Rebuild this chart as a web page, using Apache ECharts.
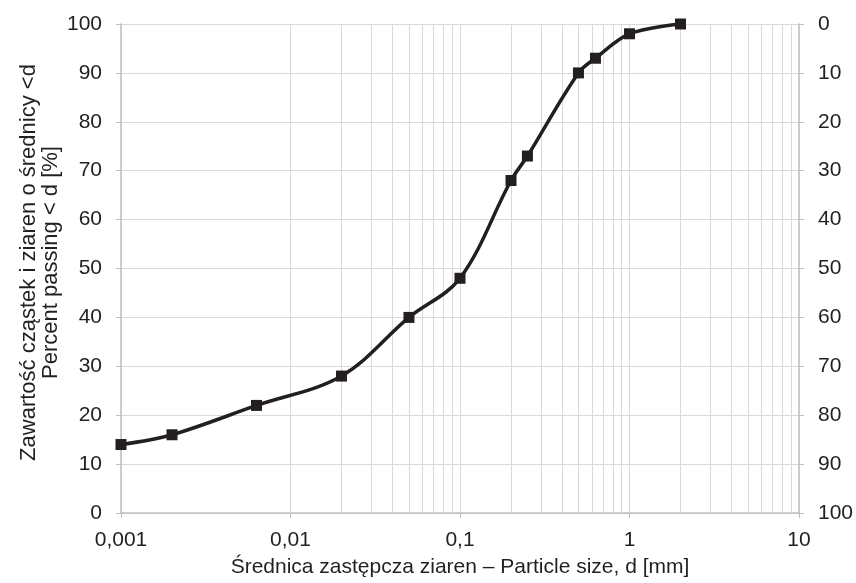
<!DOCTYPE html>
<html>
<head>
<meta charset="utf-8">
<script src="https://cdn.jsdelivr.net/npm/echarts@6/dist/echarts.min.js"></script>
<style>
  html, body { margin: 0; padding: 0; background: #fff; }
  #main { width: 856px; height: 583px; }
</style>
</head>
<body>
<div id="main"></div>
<script>
// particle size distribution
var particleSize = [0.001, 0.002, 0.0063, 0.02, 0.05, 0.1, 0.2, 0.25, 0.5, 0.63, 1, 2];
var percentPassing = [14, 16, 22, 28, 40, 48, 68, 73, 90, 93, 98, 100];
var xTickLabels = {'0.001': '0,001', '0.01': '0,01', '0.1': '0,1', '1': '1', '10': '10'};

var chart = echarts.init(document.getElementById('main'), null, { renderer: 'canvas' });

// minor log grid lines (2..9 in each decade)
var minorLines = [];
[0.001, 0.01, 0.1, 1].forEach(function (dec) {
  for (var k = 2; k <= 9; k++) {
    minorLines.push({ xAxis: +(dec * k).toPrecision(3) });
  }
});

var font = 'Liberation Sans, Arial, sans-serif';
var textColor = '#231f20';
var axisGray = '#bfbfbf';
var gridGray = '#d9d9d9';

var option = {
  animation: false,
  backgroundColor: '#ffffff',
  grid: { left: 121, right: 54, top: 24, bottom: 70, containLabel: false },
  xAxis: {
    type: 'log',
    logBase: 10,
    min: 0.001,
    max: 10,
    name: 'Średnica zastępcza ziaren – Particle size, d [mm]',
    nameLocation: 'middle',
    nameGap: 44,
    nameMoveOverlap: false,
    nameTextStyle: { fontFamily: font, fontSize: 21, color: textColor },
    axisLine: { lineStyle: { color: axisGray, width: 1.5 } },
    axisTick: { show: true, length: 5, lineStyle: { color: axisGray } },
    axisLabel: {
      fontFamily: font, fontSize: 21, color: textColor, margin: 17,
      formatter: function (v) {
        var key = String(+v.toPrecision(3));
        return xTickLabels[key] !== undefined ? xTickLabels[key] : '';
      }
    },
    splitLine: { show: true, lineStyle: { color: gridGray, width: 1 } }
  },
  yAxis: [{
    type: 'value',
    min: 0,
    max: 100,
    interval: 10,
    name: 'Zawartość cząstek i ziaren o średnicy <d\nPercent passing < d [%]',
    nameLocation: 'middle',
    nameGap: 59,
    nameMoveOverlap: false,
    nameTextStyle: { fontFamily: font, fontSize: 22, color: textColor, lineHeight: 22, padding: [0, 0, 0, 12] },
    axisLine: { show: true, lineStyle: { color: axisGray, width: 1.5 } },
    axisTick: { show: true, length: 5, lineStyle: { color: axisGray } },
    axisLabel: { fontFamily: font, fontSize: 21, color: textColor, margin: 19 },
    splitLine: { show: true, lineStyle: { color: gridGray, width: 1 } }
  }, {
    type: 'value',
    min: 0,
    max: 100,
    interval: 10,
    inverse: true,
    position: 'right',
    axisLine: { show: true, lineStyle: { color: axisGray, width: 1.5 } },
    axisTick: { show: true, length: 5, lineStyle: { color: axisGray } },
    axisLabel: { fontFamily: font, fontSize: 21, color: textColor, margin: 19 },
    splitLine: { show: false }
  }],
  series: [{
    type: 'line',
    data: particleSize.map(function (d, i) { return [d, percentPassing[i]]; }),
    smooth: 0.35,
    symbol: 'rect',
    symbolSize: 11,
    lineStyle: { color: textColor, width: 3.5 },
    itemStyle: { color: textColor },
    z: 5,
    markLine: {
      silent: true,
      symbol: 'none',
      label: { show: false },
      lineStyle: { color: gridGray, width: 1, type: 'solid' },
      z: 1,
      data: minorLines
    }
  }]
};

chart.setOption(option);
</script>
</body>
</html>
